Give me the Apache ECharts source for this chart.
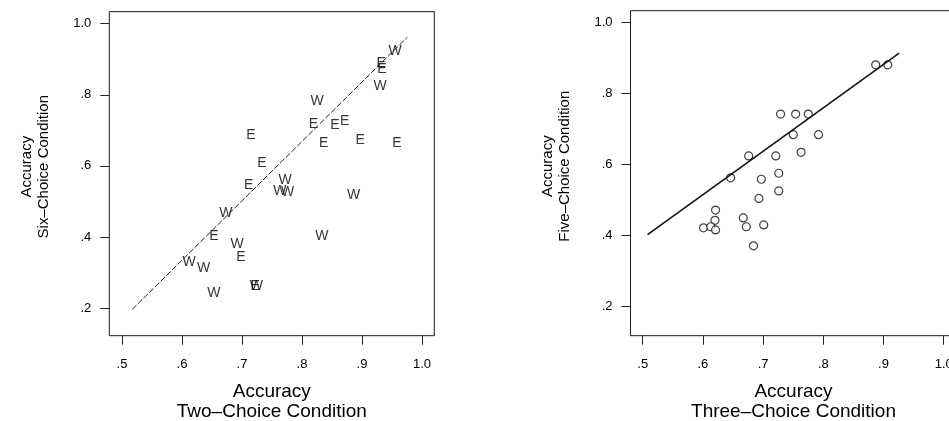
<!DOCTYPE html>
<html>
<head>
<meta charset="utf-8">
<script src="https://cdn.jsdelivr.net/npm/echarts@6/dist/echarts.min.js"></script>
<style>
  html, body { margin: 0; padding: 0; background: #fff; }
  #chart { width: 949px; height: 421px; }
</style>
</head>
<body>
<div id="chart"></div>
<script>
// ---- left panel: two-choice vs six-choice accuracy, letter = item type ----
const leftE_x = [0.932, 0.933, 0.819, 0.855, 0.871, 0.836, 0.897, 0.958, 0.715, 0.733, 0.711, 0.653, 0.698, 0.722]
const leftE_y = [0.889, 0.872, 0.718, 0.715, 0.727, 0.665, 0.673, 0.665, 0.686, 0.609, 0.545, 0.403, 0.342, 0.262]
const leftW_x = [0.955, 0.930, 0.825, 0.772, 0.763, 0.776, 0.886, 0.673, 0.692, 0.833, 0.612, 0.636, 0.653, 0.724]
const leftW_y = [0.924, 0.825, 0.783, 0.560, 0.530, 0.527, 0.518, 0.468, 0.379, 0.401, 0.328, 0.313, 0.241, 0.262]
const leftFitX = [0.517, 0.9755]
const leftFitY = [0.196, 0.962]

// ---- right panel: three-choice vs five-choice accuracy ----
const rightX = [0.887, 0.907, 0.729, 0.754, 0.775, 0.750, 0.792, 0.763, 0.676, 0.721, 0.646, 0.697,
                0.726, 0.726, 0.693, 0.621, 0.620, 0.601, 0.613, 0.621, 0.667, 0.672, 0.701, 0.684]
const rightY = [0.881, 0.881, 0.742, 0.742, 0.742, 0.684, 0.684, 0.634, 0.624, 0.624, 0.562, 0.558,
                0.575, 0.525, 0.504, 0.471, 0.442, 0.421, 0.424, 0.415, 0.449, 0.424, 0.429, 0.370]
const rightFitX = [0.508, 0.926]
const rightFitY = [0.402, 0.914]

// ---- ticks ----
const xTicks = [0.5, 0.6, 0.7, 0.8, 0.9, 1.0]
const xTickLabels = [".5", ".6", ".7", ".8", ".9", "1.0"]
const yTicks = [0.2, 0.4, 0.6, 0.8, 1.0]
const yTickLabels = [".2", ".4", ".6", ".8", "1.0"]

const zip = (xs, ys) => xs.map((x, i) => [x, ys[i]])

const FONT = "'Liberation Sans', Arial, Helvetica, sans-serif"
const INK = "#000"

function xAxisFor(gridIndex, min, max, title) {
  return {
    type: "value",
    gridIndex,
    min,
    max,
    name: title,
    nameLocation: "middle",
    nameGap: 46,
    nameTextStyle: { fontFamily: FONT, fontSize: 19, lineHeight: 20, color: INK },
    axisLine: { show: false },
    splitLine: { show: false },
    axisTick: {
      show: true,
      length: 9,
      customValues: xTicks,
      lineStyle: { color: "#222", width: 1 },
    },
    axisLabel: {
      customValues: xTicks,
      margin: 22,
      fontFamily: FONT,
      fontSize: 13,
      color: INK,
      formatter: (v) => xTickLabels[xTicks.indexOf(v)] ?? "",
    },
  }
}

function yAxisFor(gridIndex, min, max, title) {
  return {
    type: "value",
    gridIndex,
    min,
    max,
    name: title,
    nameLocation: "middle",
    nameRotate: 90,
    nameGap: 57,
    nameTextStyle: { fontFamily: FONT, fontSize: 15, lineHeight: 17, color: INK, padding: [0, 0, 0, 14] },
    axisLine: { show: false },
    splitLine: { show: false },
    axisTick: {
      show: true,
      length: 9,
      customValues: yTicks,
      lineStyle: { color: "#222", width: 1 },
    },
    axisLabel: {
      customValues: yTicks,
      margin: 18,
      fontFamily: FONT,
      fontSize: 13,
      color: INK,
      formatter: (v) => yTickLabels[yTicks.indexOf(v)] ?? "",
    },
  }
}

function letterSeries(letter, xs, ys) {
  return {
    type: "scatter",
    xAxisIndex: 0,
    yAxisIndex: 0,
    data: zip(xs, ys),
    symbolSize: 1,
    itemStyle: { color: "transparent" },
    label: {
      show: true,
      position: "inside",
      formatter: letter,
      fontFamily: FONT,
      fontSize: 14,
      color: INK,
    },
    silent: true,
  }
}

const chart = echarts.init(document.getElementById("chart"), null, { renderer: "canvas" })

const option = {
  animation: false,
  backgroundColor: "#fff",
  grid: [
    {
      left: 109.3, top: 11.7, width: 325, height: 324,
      outerBoundsMode: "none",
      show: true, borderColor: "#1a1a1a", borderWidth: 1,
    },
    // right panel's frame runs past the page edge in the original
    {
      left: 630.5, top: 10.7, width: 326, height: 325,
      outerBoundsMode: "none",
      show: true, borderColor: "#1a1a1a", borderWidth: 1,
    },
  ],
  xAxis: [
    xAxisFor(0, 0.4788, 1.0205, "Accuracy\nTwo\u2013Choice Condition"),
    xAxisFor(1, 0.4797, 1.0212, "Accuracy\nThree\u2013Choice Condition"),
  ],
  yAxis: [
    yAxisFor(0, 0.1221, 1.0338, "Accuracy\nSix\u2013Choice Condition"),
    yAxisFor(1, 0.1164, 1.0339, "Accuracy\nFive\u2013Choice Condition"),
  ],
  series: [
    letterSeries("E", leftE_x, leftE_y),
    letterSeries("W", leftW_x, leftW_y),
    {
      type: "line",
      xAxisIndex: 0,
      yAxisIndex: 0,
      data: zip(leftFitX, leftFitY),
      symbol: "none",
      lineStyle: { color: "#222", width: 1, type: [6, 2] },
      silent: true,
    },
    {
      type: "scatter",
      xAxisIndex: 1,
      yAxisIndex: 1,
      data: zip(rightX, rightY),
      symbol: "circle",
      symbolSize: 8,
      itemStyle: { color: "#fff", borderColor: "#111", borderWidth: 1.2 },
      silent: true,
    },
    {
      type: "line",
      xAxisIndex: 1,
      yAxisIndex: 1,
      data: zip(rightFitX, rightFitY),
      symbol: "none",
      lineStyle: { color: "#111", width: 1.6 },
      silent: true,
    },
  ],
}

chart.setOption(option)
</script>
</body>
</html>
